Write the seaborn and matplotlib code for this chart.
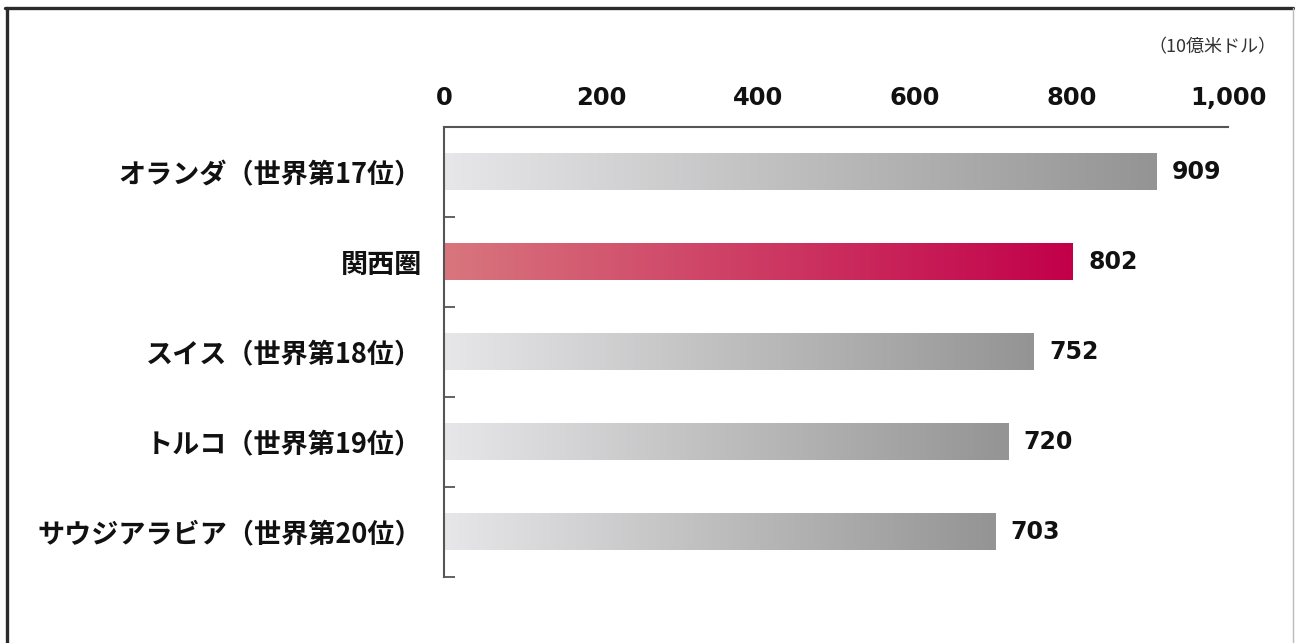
import numpy as np
import pandas as pd
import matplotlib
matplotlib.use("Agg")
import matplotlib.pyplot as plt
import seaborn as sns
from matplotlib.colors import LinearSegmentedColormap
from matplotlib.lines import Line2D

# GDP comparison (billion USD)
regions = [
    "オランダ（世界第17位）",
    "関西圏",
    "スイス（世界第18位）",
    "トルコ（世界第19位）",
    "サウジアラビア（世界第20位）",
]
gdp = [909, 802, 752, 720, 703]
highlight = "関西圏"
unit_label = "（10億米ドル）"
x_ticks = [0, 200, 400, 600, 800, 1000]
x_tick_labels = ["0", "200", "400", "600", "800", "1,000"]

sns.set_theme(style="ticks")
plt.rcParams["font.family"] = ["Noto Sans CJK JP", "DejaVu Sans"]

fig = plt.figure(figsize=(12.95, 6.43), dpi=100)
ax = fig.add_axes([0.3429, 0.1026, 0.6054, 0.6999])

df = pd.DataFrame({"region": regions, "gdp": gdp})
sns.barplot(data=df, x="gdp", y="region", orient="h", width=0.4,
            color="white", saturation=1, ax=ax)

gray_cmap = LinearSegmentedColormap.from_list("gray_grad", ["#e7e6e8", "#949494"])
red_cmap = LinearSegmentedColormap.from_list("red_grad", ["#d8767d", "#c2004a"])
grad = np.linspace(0, 1, 256).reshape(1, -1)

# Replace flat bars with left-to-right gradients
for patch, name in zip(ax.patches, regions):
    x0, y0 = patch.get_x(), patch.get_y()
    w, h = patch.get_width(), patch.get_height()
    cmap = red_cmap if name == highlight else gray_cmap
    ax.imshow(grad, cmap=cmap, extent=[x0, x0 + w, y0 + h, y0],
              aspect="auto", zorder=2, interpolation="bilinear")
    patch.set_facecolor("none")
    patch.set_edgecolor("none")

ax.bar_label(ax.containers[0], labels=[f"{v:d}" for v in gdp], padding=11,
             fontsize=17, fontweight="bold", fontfamily="DejaVu Sans",
             color="#111111")

ax.set_xlim(0, 1000)
ax.set_ylim(4.5, -0.5)
ax.set_xlabel("")
ax.set_ylabel("")

# Value axis on top
ax.xaxis.tick_top()
ax.set_xticks(x_ticks, x_tick_labels)
ax.tick_params(axis="x", which="major", direction="in", length=8, width=1.3,
               color="#555555", pad=12, labelsize=17.5)
for lbl in ax.get_xticklabels():
    lbl.set_fontweight("bold")
    lbl.set_fontfamily("DejaVu Sans")
    lbl.set_color("#111111")

# Category axis: labels at centers, tick marks at boundaries
ax.set_yticks(range(len(regions)), regions)
ax.set_yticks(np.arange(0.5, len(regions), 1), minor=True)
ax.tick_params(axis="y", which="major", length=0, pad=16, labelsize=19.5)
ax.tick_params(axis="y", which="minor", direction="in", length=8, width=1.3,
               color="#555555", left=True)
for lbl in ax.get_yticklabels():
    lbl.set_fontweight("bold")
    lbl.set_color("#111111")

sns.despine(ax=ax, top=False, right=True, left=False, bottom=True)
for side in ("top", "left"):
    ax.spines[side].set_color("#555555")
    ax.spines[side].set_linewidth(1.5)

fig.text(0.986, 0.927, unit_label, ha="right", va="center", fontsize=13,
         color="#333333")

# Frame around the figure
fig.add_artist(Line2D([0.0054, 0.0054], [0.0, 0.9876], transform=fig.transFigure,
                      color="#2b2b2b", linewidth=2.4))
fig.add_artist(Line2D([0.0042, 0.9985], [0.9876, 0.9876], transform=fig.transFigure,
                      color="#2b2b2b", linewidth=2.4))
fig.add_artist(Line2D([0.9985, 0.9985], [0.0, 0.9876], transform=fig.transFigure,
                      color="#bbbbbb", linewidth=1.0))

fig.savefig("out.png", dpi=100, facecolor="white")
